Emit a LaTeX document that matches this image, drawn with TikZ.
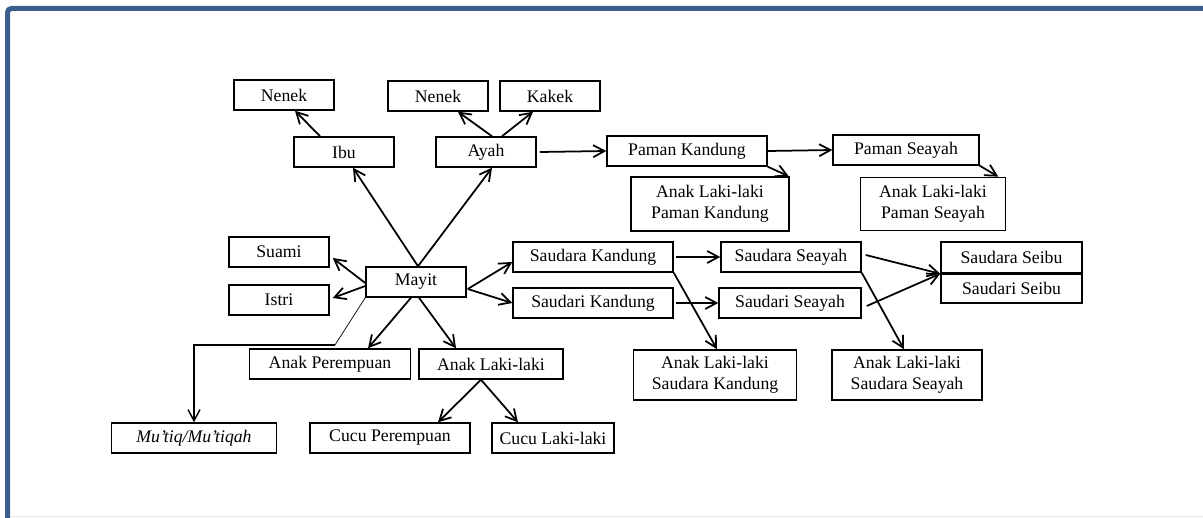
\documentclass[tikz,border=0pt]{standalone}
\usepackage{fontspec}
\setmainfont{Liberation Serif}
\usetikzlibrary{positioning,arrows.meta}
\definecolor{bingkai}{RGB}{59,94,140}

\begin{document}
\begin{tikzpicture}[x=0.025cm,y=-0.025cm,
	kotak/.style={draw, line width=1.05pt, minimum height=0.75cm, inner sep=0pt, align=center, font=\fontsize{12.6}{14.6}\selectfont},
	panah/.style={-{Straight Barb[length=2.8mm,width=3mm]}, line width=1.25pt}]
					\pgfmathsetlengthmacro{\px}{0.025cm}
					\useasboundingbox (0,0) rectangle (1203,518);
					% FRAME
					\draw[bingkai, line width=5*\px, rounded corners=4*\px] (7.5,518) -- (7.5,8.5) -- (1203,8.5);
					\draw[black!10] (10,516) -- (1203,516);
					% TOP
					\node[kotak, minimum width=2.5cm] (nenekIbu) at (284,95) {Nenek};
					\node[kotak, minimum width=2.5cm] (ibu) at (344,152) {Ibu};
					\node[kotak, minimum width=2.5cm] (nenekAyah) at (438,96) {Nenek};
					\node[kotak, minimum width=2.5cm] (kakek) at (550,96) {Kakek};
					\node[kotak, minimum width=2.5cm] (ayah) at (486,152) {Ayah};
					\node[kotak, minimum width=4cm] (pamanK) at (687,151) {Paman Kandung};
					\node[kotak, minimum width=3.65cm] (pamanS) at (906,150) {Paman Seayah};
					\node[kotak, minimum width=3.95cm, minimum height=1.35cm] (anakPamanK) at (710,204) {Anak Laki-laki\\Paman Kandung};
					\node[kotak, minimum width=3.625cm, minimum height=1.33cm] (anakPamanS) at (933,204) {Anak Laki-laki\\Paman Seayah};
					% MIDDLE
					\node[kotak, minimum width=2.5cm] (suami) at (279,252) {Suami};
					\node[kotak, minimum width=2.5cm] (istri) at (279,300) {Istri};
					\node[kotak, minimum width=2.5cm] (mayit) at (416,282) {Mayit};
					\node[kotak, minimum width=4cm] (saudaraK) at (593,257) {Saudara Kandung};
					\node[kotak, minimum width=4cm] (saudariK) at (593,303) {Saudari Kandung};
					\node[kotak, minimum width=3.5cm] (saudaraS) at (791,257) {Saudara Seayah};
					\node[kotak, minimum width=3.55cm] (saudariS) at (790,303) {Saudari Seayah};
					\node[kotak, minimum width=3.525cm, minimum height=0.775cm] (saudaraB) at (1011.5,257.5) {Saudara Seibu};
					\node[kotak, minimum width=3.525cm] (saudariB) at (1011.5,288) {Saudari Seibu};
					\draw[line width=1.7pt] (saudaraB.south west) -- (saudaraB.south east);
					% BOTTOM
					\node[kotak, minimum width=4.025cm] (anakP) at (330,364) {Anak Perempuan};
					\node[kotak, minimum width=3.6cm] (anakL) at (491,364) {Anak Laki-laki};
					\node[kotak, minimum width=4cm] (cucuP) at (390,438) {Cucu Perempuan};
					\node[kotak, minimum width=3.05cm] (cucuL) at (553,438) {Cucu Laki-laki};
					\node[kotak, minimum width=4.125cm] (mutiq) at (194,438) {\textit{Mu'tiq/Mu'tiqah}};
					\node[kotak, minimum width=4.075cm, minimum height=1.25cm] (anakSaudaraK) at (715,375) {Anak Laki-laki\\Saudara Kandung};
					\node[kotak, minimum width=3.75cm, minimum height=1.25cm] (anakSaudaraS) at (907,375) {Anak Laki-laki\\Saudara Seayah};
					% ARROWS
					\draw[panah] ([xshift=-24*\px]ibu.north) -- ([xshift=11*\px]nenekIbu.south);
					\draw[panah] ([xshift=6*\px]ayah.north) -- ([xshift=20*\px]nenekAyah.south);
					\draw[panah] ([xshift=16*\px]ayah.north) -- ([xshift=-17*\px]kakek.south);
					\draw[panah] ([xshift=3*\px]ayah.east) -- (pamanK.west);
					\draw[panah] (pamanK.east) -- (pamanS.west);
					\draw[panah] (pamanK.south east) -- ([xshift=-1*\px]anakPamanK.north east);
					\draw[panah] (pamanS.south east) -- ([xshift=-8*\px]anakPamanS.north east);
					\draw[panah] ([xshift=2*\px]mayit.north) -- ([xshift=9*\px]ibu.south);
					\draw[panah] ([xshift=2*\px]mayit.north) -- ([xshift=6*\px]ayah.south);
					\draw[panah] ([yshift=-1*\px]mayit.west) -- ([xshift=3*\px,yshift=-6*\px]suami.east);
					\draw[panah] ([yshift=-4*\px]mayit.west) -- ([xshift=3*\px,yshift=2*\px]istri.east);
					\draw[panah] ([xshift=1*\px,yshift=-7*\px]mayit.east) -- ([yshift=-5*\px]saudaraK.west);
					\draw[panah] ([xshift=1*\px,yshift=-7*\px]mayit.east) -- (saudariK.west);
					\draw[panah] ([xshift=-5*\px]mayit.south) -- ([xshift=38*\px]anakP.north);
					\draw[panah] ([xshift=3*\px]mayit.south) -- ([xshift=-35*\px]anakL.north);
					\coordinate (belok) at (335,345);
					\draw[line width=0.5pt] (mayit.south west) -- (belok);
					\draw[panah, line width=1pt] (belok) -| (mutiq.north);
					\draw[panah] ([xshift=-10*\px]anakL.south) -- ([xshift=48*\px]cucuP.north);
					\draw[panah] ([xshift=-10*\px]anakL.south) -- ([xshift=-35*\px]cucuL.north);
					\draw[panah] ([xshift=2*\px]saudaraK.east) -- (saudaraS.west);
					\draw[panah] ([xshift=2*\px]saudariK.east) -- (saudariS.west);
					\draw[panah] (saudaraK.south east) -- ([xshift=2*\px]anakSaudaraK.north);
					\draw[panah] (saudaraS.south east) -- ([xshift=-3*\px]anakSaudaraS.north);
					\draw[panah] ([xshift=4*\px,yshift=2*\px]saudaraS.east) -- (saudaraB.south west);
					\draw[panah] ([xshift=5*\px,yshift=-3*\px]saudariS.east) -- (saudaraB.south west);
				\end{tikzpicture}
\end{document}
